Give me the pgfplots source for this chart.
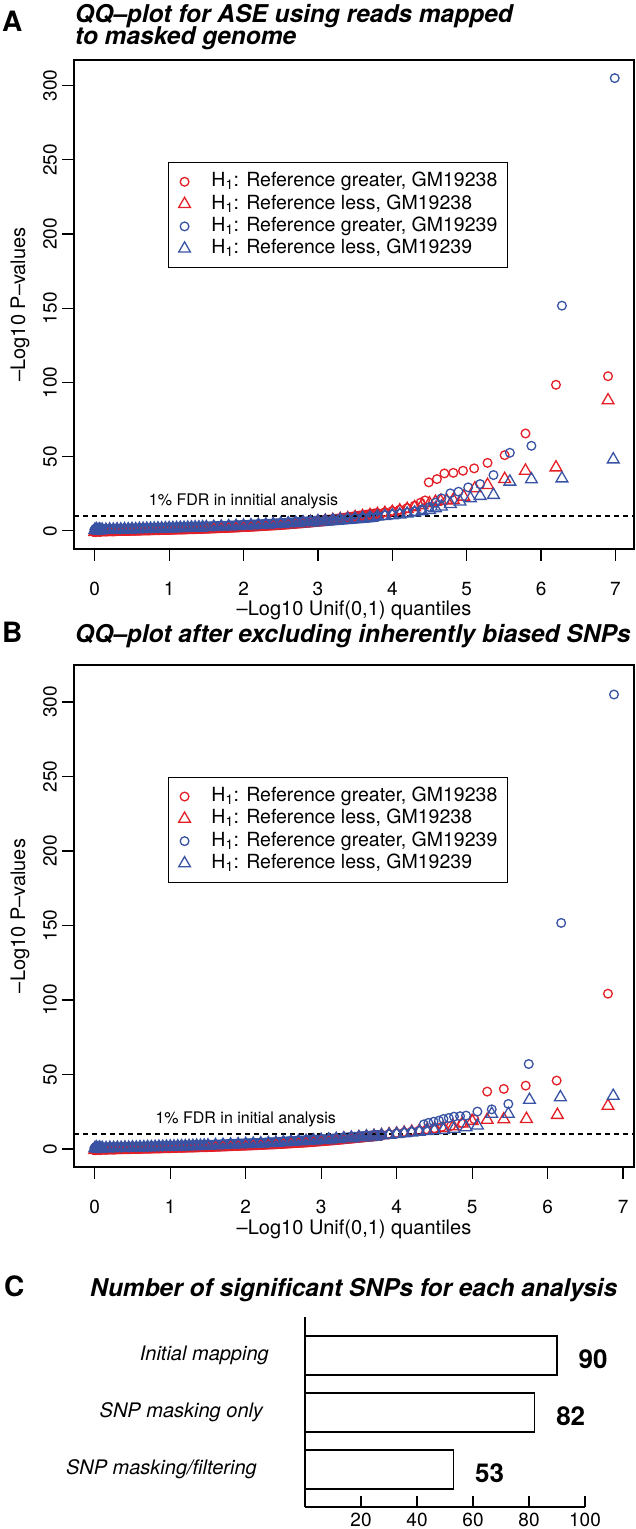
\documentclass[border=0pt]{standalone}
\usepackage{fontspec}
\setmainfont{TeX Gyre Heros}
\usepackage{pgfplots}
\usepackage{pgfplotstable}
\pgfplotsset{compat=1.18}
\definecolor{qred}{RGB}{228,30,38}
\definecolor{qblue}{RGB}{56,83,164}
\newcommand{\fs}[1]{\fontsize{#1}{#1}\selectfont}
% ---------- Panel A data ----------
\pgfplotstableread[row sep=\\]{x y\\ 0.00 -0.6\\ 0.03 0.2\\ 0.06 -0.3\\ 0.10 0.0\\ 0.15 -0.1\\ 0.20 0.1\\ 0.25 0.0\\ 0.30 0.2\\ 0.35 0.2\\ 0.40 0.3\\ 0.45 0.3\\ 0.50 0.4\\ 0.55 0.4\\ 0.60 0.5\\ 0.65 0.6\\ 0.70 0.6\\ 0.75 0.7\\ 0.80 0.8\\ 0.85 0.8\\ 0.90 0.9\\ 0.95 1.0\\ 1.00 1.0\\ 1.05 1.1\\ 1.10 1.2\\ 1.15 1.2\\ 1.20 1.3\\ 1.25 1.4\\ 1.30 1.5\\ 1.35 1.5\\ 1.40 1.6\\ 1.45 1.7\\ 1.50 1.8\\ 1.60 2.0\\ 1.70 2.2\\ 1.80 2.4\\ 1.90 2.6\\ 2.00 2.9\\ 2.10 3.1\\ 2.20 3.4\\ 2.30 3.7\\ 2.40 4.0\\ 2.50 4.3\\ 2.60 4.7\\ 2.70 5.1\\ 2.80 5.5\\ 2.90 6.0\\ 3.00 6.5\\ 3.10 7.0\\ 3.20 7.6\\ 3.30 8.2\\ 3.40 8.9\\ 3.50 9.6\\ 3.60 10.3\\ 3.70 11.0\\ 3.80 11.8\\ 3.90 12.6\\ 4.00 13.4\\ 4.10 14.3\\ 4.20 15.4\\ 4.30 17.0\\ 4.38 19.0\\ 4.44 20.5\\ 4.49 32.7\\ 4.60 34.9\\ 4.70 38.7\\ 4.82 39.1\\ 4.95 40.5\\ 5.10 42.1\\ 5.28 45.8\\ 5.51 51.0\\ 5.79 65.6\\ 6.20 98.4\\ 6.90 104.2\\}\RCa
\pgfplotstableread[row sep=\\]{x y\\ 0.00 -0.8\\ 0.03 -0.1\\ 0.06 -0.5\\ 0.10 -0.2\\ 0.15 -0.2\\ 0.20 0.0\\ 0.25 -0.1\\ 0.30 0.1\\ 0.35 0.1\\ 0.40 0.2\\ 0.45 0.2\\ 0.50 0.3\\ 0.55 0.3\\ 0.60 0.4\\ 0.65 0.5\\ 0.70 0.5\\ 0.75 0.6\\ 0.80 0.7\\ 0.85 0.7\\ 0.90 0.8\\ 0.95 0.9\\ 1.00 0.9\\ 1.05 1.0\\ 1.10 1.1\\ 1.15 1.1\\ 1.20 1.2\\ 1.25 1.3\\ 1.30 1.4\\ 1.35 1.4\\ 1.40 1.5\\ 1.45 1.6\\ 1.50 1.7\\ 1.60 1.9\\ 1.70 2.1\\ 1.80 2.3\\ 1.90 2.5\\ 2.00 2.8\\ 2.10 3.0\\ 2.20 3.3\\ 2.30 3.6\\ 2.40 3.9\\ 2.50 4.2\\ 2.60 4.6\\ 2.70 5.0\\ 2.80 5.4\\ 2.90 5.8\\ 3.00 6.3\\ 3.10 6.8\\ 3.20 7.3\\ 3.30 7.9\\ 3.40 8.5\\ 3.50 9.2\\ 3.60 9.9\\ 3.70 10.6\\ 3.80 11.3\\ 3.90 12.0\\ 4.00 12.8\\ 4.10 13.7\\ 4.20 14.7\\ 4.30 15.9\\ 4.40 17.2\\ 4.50 18.5\\ 4.58 19.5\\ 4.65 20.0\\ 4.73 20.4\\ 4.82 20.8\\ 4.96 23.0\\ 5.11 28.6\\ 5.28 30.9\\ 5.51 34.9\\ 5.79 40.5\\ 6.20 42.7\\ 6.90 87.9\\}\RTa
\pgfplotstableread[row sep=\\]{x y\\ 0.00 0.8\\ 0.02 1.6\\ 0.04 0.4\\ 0.06 1.3\\ 0.08 0.6\\ 0.10 1.0\\ 0.15 0.9\\ 0.20 1.1\\ 0.25 1.0\\ 0.30 1.2\\ 0.35 1.1\\ 0.40 1.3\\ 0.45 1.2\\ 0.50 1.4\\ 0.55 1.3\\ 0.60 1.5\\ 0.65 1.5\\ 0.70 1.6\\ 0.75 1.6\\ 0.80 1.7\\ 0.85 1.8\\ 0.90 1.8\\ 0.95 1.9\\ 1.00 2.0\\ 1.05 2.0\\ 1.10 2.1\\ 1.15 2.2\\ 1.20 2.2\\ 1.25 2.3\\ 1.30 2.4\\ 1.35 2.5\\ 1.40 2.5\\ 1.45 2.6\\ 1.50 2.7\\ 1.60 2.9\\ 1.70 3.1\\ 1.80 3.3\\ 1.90 3.5\\ 2.00 3.7\\ 2.10 3.9\\ 2.20 4.2\\ 2.30 4.4\\ 2.40 4.7\\ 2.50 5.0\\ 2.60 5.3\\ 2.70 5.6\\ 2.80 6.0\\ 2.90 6.3\\ 3.00 6.7\\ 3.10 7.0\\ 3.20 7.4\\ 3.30 7.8\\ 3.40 8.2\\ 3.50 8.6\\ 3.60 9.0\\ 3.70 9.5\\ 3.80 10.0\\ 3.90 10.5\\ 4.00 11.0\\ 4.10 11.6\\ 4.20 12.3\\ 4.30 13.2\\ 4.40 14.5\\ 4.50 16.0\\ 4.58 19.0\\ 4.66 21.9\\ 4.78 25.3\\ 4.89 26.4\\ 5.02 29.3\\ 5.18 31.5\\ 5.36 37.6\\ 5.58 52.6\\ 5.87 57.3\\ 6.28 151.7\\ 6.99 305.0\\}\BCa
\pgfplotstableread[row sep=\\]{x y\\ 0.00 0.5\\ 0.02 1.2\\ 0.04 0.2\\ 0.06 1.0\\ 0.08 0.4\\ 0.10 0.8\\ 0.15 0.7\\ 0.20 0.9\\ 0.25 0.8\\ 0.30 1.0\\ 0.35 0.9\\ 0.40 1.1\\ 0.45 1.0\\ 0.50 1.2\\ 0.55 1.1\\ 0.60 1.3\\ 0.65 1.3\\ 0.70 1.4\\ 0.75 1.4\\ 0.80 1.5\\ 0.85 1.6\\ 0.90 1.6\\ 0.95 1.7\\ 1.00 1.8\\ 1.05 1.8\\ 1.10 1.9\\ 1.15 2.0\\ 1.20 2.0\\ 1.25 2.1\\ 1.30 2.2\\ 1.35 2.3\\ 1.40 2.3\\ 1.45 2.4\\ 1.50 2.5\\ 1.60 2.7\\ 1.70 2.9\\ 1.80 3.1\\ 1.90 3.3\\ 2.00 3.5\\ 2.10 3.7\\ 2.20 4.0\\ 2.30 4.2\\ 2.40 4.5\\ 2.50 4.8\\ 2.60 5.1\\ 2.70 5.4\\ 2.80 5.7\\ 2.90 6.0\\ 3.00 6.4\\ 3.10 6.7\\ 3.20 7.1\\ 3.30 7.5\\ 3.40 7.9\\ 3.50 8.3\\ 3.60 8.7\\ 3.70 9.1\\ 3.80 9.6\\ 3.90 10.0\\ 4.00 10.5\\ 4.10 11.0\\ 4.20 11.6\\ 4.30 12.3\\ 4.40 13.1\\ 4.50 14.0\\ 4.58 15.2\\ 4.66 16.3\\ 4.78 18.1\\ 4.91 19.7\\ 5.05 21.9\\ 5.18 23.5\\ 5.36 24.2\\ 5.58 33.1\\ 5.87 34.7\\ 6.28 35.3\\ 6.97 48.1\\}\BTa
% ---------- Panel B data ----------
\pgfplotstableread[row sep=\\]{x y\\ 0.00 -0.6\\ 0.03 0.1\\ 0.06 -0.4\\ 0.10 -0.1\\ 0.15 -0.2\\ 0.20 0.0\\ 0.25 -0.1\\ 0.30 0.1\\ 0.35 0.1\\ 0.40 0.2\\ 0.45 0.2\\ 0.50 0.3\\ 0.55 0.3\\ 0.60 0.4\\ 0.65 0.5\\ 0.70 0.5\\ 0.75 0.6\\ 0.80 0.7\\ 0.85 0.7\\ 0.90 0.8\\ 0.95 0.9\\ 1.00 0.9\\ 1.05 1.0\\ 1.10 1.1\\ 1.15 1.1\\ 1.20 1.2\\ 1.25 1.3\\ 1.30 1.3\\ 1.35 1.4\\ 1.40 1.5\\ 1.45 1.5\\ 1.50 1.6\\ 1.60 1.8\\ 1.70 2.0\\ 1.80 2.2\\ 1.90 2.4\\ 2.00 2.6\\ 2.10 2.8\\ 2.20 3.0\\ 2.30 3.3\\ 2.40 3.5\\ 2.50 3.8\\ 2.60 4.1\\ 2.70 4.4\\ 2.80 4.7\\ 2.90 5.1\\ 3.00 5.5\\ 3.10 5.9\\ 3.20 6.3\\ 3.30 6.8\\ 3.40 7.3\\ 3.50 7.8\\ 3.60 8.3\\ 3.70 8.8\\ 3.80 9.3\\ 3.90 9.9\\ 4.00 10.5\\ 4.10 11.1\\ 4.20 11.7\\ 4.30 12.4\\ 4.40 13.1\\ 4.50 13.8\\ 4.60 14.8\\ 4.72 15.5\\ 4.87 17.2\\ 5.03 19.9\\ 5.20 38.5\\ 5.42 40.3\\ 5.71 42.5\\ 6.12 45.9\\ 6.80 104.2\\}\RCb
\pgfplotstableread[row sep=\\]{x y\\ 0.00 -0.8\\ 0.03 -0.2\\ 0.06 -0.6\\ 0.10 -0.3\\ 0.15 -0.3\\ 0.20 -0.1\\ 0.25 -0.2\\ 0.30 0.0\\ 0.35 0.0\\ 0.40 0.1\\ 0.45 0.1\\ 0.50 0.2\\ 0.55 0.2\\ 0.60 0.3\\ 0.65 0.4\\ 0.70 0.4\\ 0.75 0.5\\ 0.80 0.6\\ 0.85 0.6\\ 0.90 0.7\\ 0.95 0.8\\ 1.00 0.8\\ 1.05 0.9\\ 1.10 1.0\\ 1.15 1.0\\ 1.20 1.1\\ 1.25 1.2\\ 1.30 1.2\\ 1.35 1.3\\ 1.40 1.4\\ 1.45 1.4\\ 1.50 1.5\\ 1.60 1.7\\ 1.70 1.9\\ 1.80 2.1\\ 1.90 2.3\\ 2.00 2.5\\ 2.10 2.7\\ 2.20 2.9\\ 2.30 3.2\\ 2.40 3.4\\ 2.50 3.7\\ 2.60 4.0\\ 2.70 4.3\\ 2.80 4.6\\ 2.90 5.0\\ 3.00 5.4\\ 3.10 5.8\\ 3.20 6.2\\ 3.30 6.7\\ 3.40 7.2\\ 3.50 7.7\\ 3.60 8.2\\ 3.70 8.7\\ 3.80 9.2\\ 3.90 9.8\\ 4.00 10.3\\ 4.10 10.9\\ 4.20 11.5\\ 4.30 12.1\\ 4.40 12.7\\ 4.50 13.3\\ 4.62 14.0\\ 4.75 15.2\\ 4.87 17.0\\ 5.00 18.8\\ 5.20 19.5\\ 5.42 19.9\\ 5.72 20.1\\ 6.13 22.8\\ 6.80 28.9\\}\RTb
\pgfplotstableread[row sep=\\]{x y\\ 0.00 0.6\\ 0.02 1.4\\ 0.04 0.3\\ 0.06 1.1\\ 0.08 0.5\\ 0.10 0.8\\ 0.15 0.7\\ 0.20 0.9\\ 0.25 0.8\\ 0.30 1.0\\ 0.35 0.9\\ 0.40 1.1\\ 0.45 1.0\\ 0.50 1.2\\ 0.55 1.1\\ 0.60 1.3\\ 0.65 1.3\\ 0.70 1.4\\ 0.75 1.4\\ 0.80 1.5\\ 0.85 1.6\\ 0.90 1.6\\ 0.95 1.7\\ 1.00 1.8\\ 1.05 1.8\\ 1.10 1.9\\ 1.15 2.0\\ 1.20 2.0\\ 1.25 2.1\\ 1.30 2.2\\ 1.35 2.3\\ 1.40 2.3\\ 1.45 2.4\\ 1.50 2.5\\ 1.60 2.7\\ 1.70 2.9\\ 1.80 3.1\\ 1.90 3.3\\ 2.00 3.5\\ 2.10 3.7\\ 2.20 3.9\\ 2.30 4.1\\ 2.40 4.4\\ 2.50 4.7\\ 2.60 5.0\\ 2.70 5.3\\ 2.80 5.6\\ 2.90 5.9\\ 3.00 6.2\\ 3.10 6.5\\ 3.20 6.9\\ 3.30 7.3\\ 3.40 7.7\\ 3.50 8.1\\ 3.60 8.5\\ 3.70 8.9\\ 3.80 9.3\\ 3.90 9.8\\ 4.00 10.3\\ 4.10 10.8\\ 4.20 11.4\\ 4.30 12.1\\ 4.36 16.5\\ 4.42 17.5\\ 4.49 18.3\\ 4.56 19.0\\ 4.62 20.1\\ 4.69 20.8\\ 4.76 21.7\\ 4.84 22.0\\ 4.92 22.4\\ 5.07 25.1\\ 5.26 26.6\\ 5.48 30.2\\ 5.75 57.0\\ 6.18 151.7\\ 6.88 305.0\\}\BCb
\pgfplotstableread[row sep=\\]{x y\\ 0.00 0.4\\ 0.02 1.1\\ 0.04 0.1\\ 0.06 0.9\\ 0.08 0.3\\ 0.10 0.6\\ 0.15 0.5\\ 0.20 0.7\\ 0.25 0.6\\ 0.30 0.8\\ 0.35 0.7\\ 0.40 0.9\\ 0.45 0.8\\ 0.50 1.0\\ 0.55 0.9\\ 0.60 1.1\\ 0.65 1.1\\ 0.70 1.2\\ 0.75 1.2\\ 0.80 1.3\\ 0.85 1.4\\ 0.90 1.4\\ 0.95 1.5\\ 1.00 1.6\\ 1.05 1.6\\ 1.10 1.7\\ 1.15 1.8\\ 1.20 1.8\\ 1.25 1.9\\ 1.30 2.0\\ 1.35 2.1\\ 1.40 2.1\\ 1.45 2.2\\ 1.50 2.3\\ 1.60 2.5\\ 1.70 2.7\\ 1.80 2.9\\ 1.90 3.1\\ 2.00 3.3\\ 2.10 3.5\\ 2.20 3.7\\ 2.30 3.9\\ 2.40 4.2\\ 2.50 4.5\\ 2.60 4.8\\ 2.70 5.1\\ 2.80 5.4\\ 2.90 5.7\\ 3.00 6.0\\ 3.10 6.3\\ 3.20 6.7\\ 3.30 7.1\\ 3.40 7.5\\ 3.50 7.9\\ 3.60 8.3\\ 3.70 8.7\\ 3.80 9.1\\ 3.90 9.5\\ 4.00 10.0\\ 4.10 10.5\\ 4.20 11.0\\ 4.30 11.5\\ 4.40 12.0\\ 4.50 12.5\\ 4.62 12.8\\ 4.76 13.5\\ 4.92 14.5\\ 5.07 15.7\\ 5.26 23.5\\ 5.48 23.5\\ 5.76 32.9\\ 6.17 34.7\\ 6.87 35.6\\}\BTb
\pgfplotsset{
  rc/.style={only marks, mark=o, mark size=4.35pt, color=qred, mark options={line width=1.3pt, solid}},
  rt/.style={only marks, mark=triangle, mark size=6.8pt, color=qred, mark options={line width=1.3pt, solid}},
  bc/.style={only marks, mark=o, mark size=4.35pt, color=qblue, mark options={line width=1.3pt, solid}},
  bt/.style={only marks, mark=triangle, mark size=6.8pt, color=qblue, mark options={line width=1.3pt, solid}},
  dense/.style={no marks, line width=10.5pt, line cap=round, line join=round, forget plot, restrict x to domain=-1:3.85},
  qq/.style={
    scale only axis, width=560pt,
    axis line style={line width=1.2pt},
    tick style={line width=1.2pt, black},
    major tick length=12pt, tick align=outside, xtick pos=lower, ytick pos=left,
    xtick={0,1,...,7}, ytick={0,50,...,300},
    ticklabel style={font=\fs{19}},
    /pgf/number format/assume math mode=true,
    yticklabel style={rotate=90, anchor=south, inner sep=0pt},
    xticklabel style={anchor=north, inner sep=0pt},
    yticklabel shift=5pt, xticklabel shift=21pt,
    label style={font=\fs{20}},
    xlabel={\textendash Log10 Unif(0,1) quantiles},
    ylabel={\textendash Log10 P\textendash values},
    ylabel style={at={(axis description cs:-0.0964,0.5)}, anchor=center},
    legend cell align=left,
    legend image code/.code={\draw[#1] plot coordinates {(0pt,0pt)};},
    legend style={draw=black, line width=1.2pt, fill=white, anchor=north west,
       inner xsep=10pt, inner ysep=9pt, row sep=2.3pt, column sep=21pt, font=\fs{19.5},
       nodes={inner sep=0pt, text height=15pt, text depth=5pt}},
  }
}
\begin{document}
\begin{tikzpicture}
\useasboundingbox (0pt,0pt) rectangle (636pt,1529pt);
% ---------------- Panel A ----------------
\begin{axis}[qq, at={(74pt,980pt)}, anchor=south west, height=489pt,
  xmin=-0.279, xmax=7.249, ymin=-12.2, ymax=317.2,
  xlabel style={at={(axis description cs:0.5,-0.1247)}, anchor=center},
  legend style={at={(axis description cs:0.168,0.791)}}]
\addplot[dense, qred] table {\RCa};
\addplot[rc] table {\RCa};
\addlegendentry{H\textsubscript{1}: Reference greater, GM19238}
\addplot[dense, qred] table {\RTa};
\addplot[rt] table {\RTa};
\addlegendentry{H\textsubscript{1}: Reference less, GM19238}
\addplot[dense, qblue] table {\BCa};
\addplot[bc] table {\BCa};
\addlegendentry{H\textsubscript{1}: Reference greater, GM19239}
\addplot[dense, qblue] table {\BTa};
\addplot[bt] table {\BTa};
\addlegendentry{H\textsubscript{1}: Reference less, GM19239}
\addplot[black, line width=1.2pt, dash pattern=on 5pt off 4pt, forget plot] coordinates {(-0.279,10) (7.249,10)};
\node[font=\fs{16}, anchor=base] at (axis cs:2.0,16.8) {1\% FDR in innitial analysis};
\end{axis}
% ---------------- Panel B ----------------
\begin{axis}[qq, at={(74pt,362pt)}, anchor=south west, height=502pt,
  xmin=-0.275, xmax=7.145, ymin=-12.1, ymax=324.8,
  xlabel style={at={(axis description cs:0.5,-0.1235)}, anchor=center},
  legend style={at={(axis description cs:0.168,0.777)}}]
\addplot[dense, qred] table {\RCb};
\addplot[rc] table {\RCb};
\addlegendentry{H\textsubscript{1}: Reference greater, GM19238}
\addplot[dense, qred] table {\RTb};
\addplot[rt] table {\RTb};
\addlegendentry{H\textsubscript{1}: Reference less, GM19238}
\addplot[dense, qblue] table {\BCb};
\addplot[bc] table {\BCb};
\addlegendentry{H\textsubscript{1}: Reference greater, GM19239}
\addplot[dense, qblue] table {\BTb};
\addplot[bt] table {\BTb};
\addlegendentry{H\textsubscript{1}: Reference less, GM19239}
\addplot[black, line width=1.2pt, dash pattern=on 5pt off 4pt, forget plot] coordinates {(-0.275,10) (7.145,10)};
\node[font=\fs{16}, anchor=base] at (axis cs:2.0,16.8) {1\% FDR in initial analysis};
\end{axis}
% ---------------- Panel C ----------------
\begin{axis}[at={(305pt,22pt)}, anchor=south west, scale only axis, width=280pt, height=190pt,
  xmin=0, xmax=100, ymin=0.342, ymax=3.675,
  axis x line*=bottom, axis y line*=left,
  axis line style={line width=1.2pt},
  xtick={20,40,60,80,100}, tick align=inside, major tick length=11pt,
  tick style={line width=1.2pt, black},
  xticklabel style={anchor=north, inner sep=0pt, font=\fs{19}}, xticklabel shift=6pt,
  ytick={1,2,3}, yticklabels={SNP masking/filtering\hspace*{12pt}, SNP masking only\hspace*{6pt}, Initial mapping},
  ytick style={draw=none},
  yticklabel style={anchor=east, inner sep=0pt, font=\fs{20}\itshape},
  yticklabel shift=25pt,
  /pgf/number format/assume math mode=true,
  xbar, bar width=39pt, clip=false]
\addplot[draw=black, fill=white, line width=1.3pt, nodes near coords, point meta=x,
  nodes near coords style={font=\fs{26}\bfseries, anchor=west, inner sep=0pt, xshift=21pt, yshift=-4pt, black}]
  coordinates {(90,3) (82,2) (53,1)};
\end{axis}
% ---------------- Titles ----------------
\node[anchor=base west, inner sep=0pt, font=\fs{28}\bfseries] at (2pt,1497pt) {A};
\node[anchor=base west, inner sep=0pt, font=\fs{24.5}\bfseries\itshape] at (75pt,1506pt) {QQ\textendash plot for ASE using reads mapped};
\node[anchor=base west, inner sep=0pt, font=\fs{24.5}\bfseries\itshape] at (75pt,1484pt) {to masked genome};
\node[anchor=base west, inner sep=0pt, font=\fs{28}\bfseries] at (2pt,886pt) {B};
\node[anchor=base west, inner sep=0pt, font=\fs{24.5}\bfseries\itshape] at (75pt,886pt) {QQ\textendash plot after excluding inherently biased SNPs};
\node[anchor=base west, inner sep=0pt, font=\fs{28}\bfseries] at (4pt,232pt) {C};
\node[anchor=base west, inner sep=0pt, font=\fs{24.5}\bfseries\itshape] at (90pt,232pt) {Number of significant SNPs for each analysis};
\end{tikzpicture}
\end{document}
